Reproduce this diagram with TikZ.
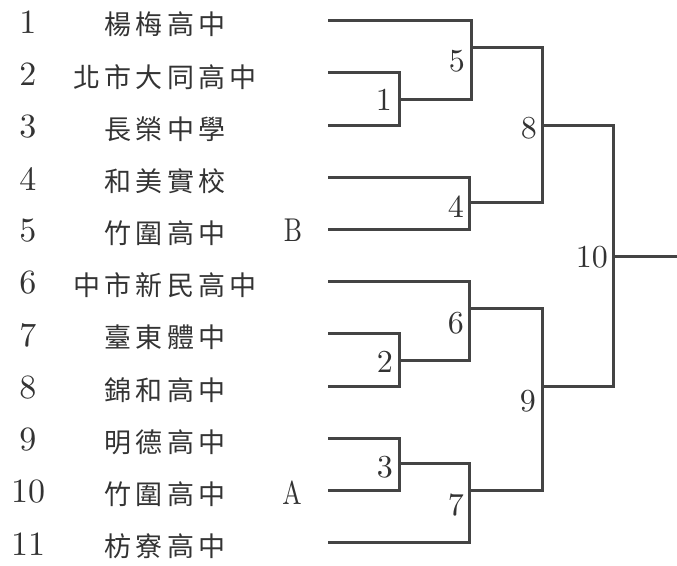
\documentclass[tikz,border=0pt]{standalone}
\usepackage{fontspec}
\newfontfamily\cjk[LetterSpace=16]{Noto Sans CJK TC}
\newfontfamily\lmten{lmroman10-regular}[Extension=.otf]
\definecolor{linegray}{HTML}{444444}
\definecolor{txtgray}{HTML}{333333}
\begin{document}
\begin{tikzpicture}[x=1pt,y=-1pt,
  bline/.style={draw=linegray,line width=3pt,line cap=butt,line join=miter},
  seednum/.style={inner sep=0pt,text=txtgray,font=\lmten\fontsize{34}{38}\selectfont},
  teamname/.style={inner sep=0pt,text=txtgray,font=\cjk\fontsize{27}{30}\selectfont},
  sidelbl/.style={inner sep=0pt,text=txtgray,font=\lmten\fontsize{33}{36}\selectfont},
  matchlbl/.style={anchor=east,inner sep=0pt,text=txtgray,font=\lmten\fontsize{32}{36}\selectfont}]
\useasboundingbox (0,0) rectangle (677,565);
% left column: seeds and team names
\foreach \i/\t in {1/楊梅高中,2/北市大同高中,3/長榮中學,4/和美實校,5/竹圍高中,6/中市新民高中,7/臺東體中,8/錦和高中,9/明德高中,10/竹圍高中,11/枋寮高中}{
  \pgfmathsetmacro{\ly}{20+52.2*(\i-1)}
  \node[seednum] (s\i) at (28,\ly+2) {\i};
  \node[teamname] (n\i) at (165,\ly+4.5) {\t};
}
\node[sidelbl] (labB) at (293,230.5) {\scalebox{0.78}[1]{B}};
\node[sidelbl] (labA) at (292,492.5) {\scalebox{0.78}[1]{A}};
% team line start points
\coordinate (r1) at (328,20);
\coordinate (r2) at (328,72);
\coordinate (r3) at (328,125);
\coordinate (r4) at (328,177);
\coordinate (r5) at (328,229);
\coordinate (r6) at (328,281);
\coordinate (r7) at (328,333);
\coordinate (r8) at (328,386);
\coordinate (r9) at (328,438);
\coordinate (r10) at (328,490);
\coordinate (r11) at (328,542);
% match outputs
\coordinate (m1) at (399,99);
\coordinate (m5) at (471,47);
\coordinate (m4) at (469,202);
\coordinate (m8) at (542,125);
\coordinate (m2) at (399,360);
\coordinate (m6) at (469,308);
\coordinate (m3) at (399,463);
\coordinate (m7) at (469,490);
\coordinate (m9) at (542,386);
\coordinate (m10) at (613,256);
\coordinate (fin) at (677,256);
% brackets
\draw[bline] (r2) -| (m1) |- (r3);
\draw[bline] (r1) -| (m5) |- (m1);
\draw[bline] (r4) -| (m4) |- (r5);
\draw[bline] (m5) -| (m8) |- (m4);
\draw[bline] (r7) -| (m2) |- (r8);
\draw[bline] (r6) -| (m6) |- (m2);
\draw[bline] (r9) -| (m3) |- (r10);
\draw[bline] (m3) -| (m7) |- (r11);
\draw[bline] (m6) -| (m9) |- (m7);
\draw[bline] (m8) -| (m10) |- (m9);
\draw[bline] (m10) -- (fin);
% match labels
\node[matchlbl] (l1) at (392,100) {1};
\node[matchlbl] (l5) at (465,61) {5};
\node[matchlbl] (l4) at (464,207) {4};
\node[matchlbl] (l8) at (537,128) {8};
\node[matchlbl] (l2) at (393,362) {2};
\node[matchlbl] (l6) at (464,323) {6};
\node[matchlbl] (l3) at (393,467) {3};
\node[matchlbl] (l7) at (464,505) {7};
\node[matchlbl] (l9) at (536,401) {9};
\node[matchlbl] (l10) at (608,257) {10};
\end{tikzpicture}
\end{document}
